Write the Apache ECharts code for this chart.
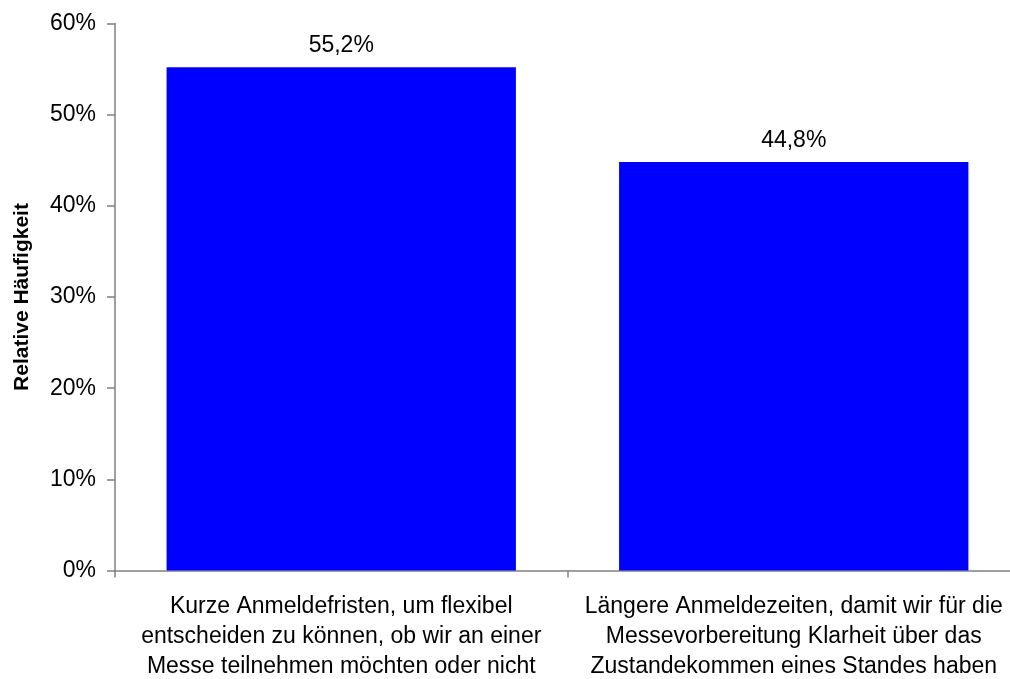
<!DOCTYPE html>
<html>
<head>
<meta charset="utf-8">
<script src="https://cdn.jsdelivr.net/npm/echarts@6/dist/echarts.min.js"></script>
<style>
  html, body { margin: 0; padding: 0; background: #fff; }
  #chart { width: 1010px; height: 679px; }
</style>
</head>
<body>
<div id="chart"></div>
<script>
// Answer categories (line breaks as printed under the axis)
const categories = [
  'Kurze Anmeldefristen, um flexibel\nentscheiden zu können, ob wir an einer\nMesse teilnehmen möchten oder nicht',
  'Längere Anmeldezeiten, damit wir für die\nMessevorbereitung Klarheit über das\nZustandekommen eines Standes haben'
];
// Relative frequency in percent
const shares = [55.2, 44.8];
// Value axis range and step (percent)
const yMin = 0, yMax = 60, yStep = 10;
const yAxisTitle = 'Relative Häufigkeit';

const fontFamily = '"Liberation Sans", Arial, sans-serif';
const chart = echarts.init(document.getElementById('chart'), null, { renderer: 'canvas' });

chart.setOption({
  animation: false,
  backgroundColor: '#ffffff',
  // plot runs a little past the right edge of the canvas
  grid: { left: 115, top: 23.5, width: 905, height: 547, containLabel: false, outerBoundsMode: 'none' },
  xAxis: {
    type: 'category',
    data: categories,
    axisLine: { lineStyle: { color: '#808080', width: 1.5 } },
    axisTick: { show: true, length: 7, lineStyle: { color: '#808080', width: 1.5 } },
    axisLabel: {
      color: '#000', fontFamily, fontSize: 23, lineHeight: 30, margin: 21.5, interval: 0, align: 'center'
    },
    splitLine: { show: false }
  },
  yAxis: {
    type: 'value',
    min: yMin, max: yMax, interval: yStep,
    name: yAxisTitle,
    nameLocation: 'middle',
    nameRotate: 90,
    nameGap: 82,
    nameTextStyle: { color: '#000', fontFamily, fontSize: 21, fontWeight: 'bold' },
    axisLine: { show: true, lineStyle: { color: '#808080', width: 1.5 } },
    axisTick: { show: true, length: 8, lineStyle: { color: '#808080', width: 1.5 } },
    axisLabel: { color: '#000', fontFamily, fontSize: 23, margin: 19, formatter: v => v + '%' },
    splitLine: { show: false }
  },
  series: [{
    type: 'bar',
    data: shares,
    barWidth: '77.2%',
    itemStyle: { color: '#0000ff' },
    label: {
      show: true, position: 'top', distance: 10,
      color: '#000', fontFamily, fontSize: 23,
      formatter: p => p.value.toFixed(1).replace('.', ',') + '%'
    }
  }]
});
</script>
</body>
</html>
